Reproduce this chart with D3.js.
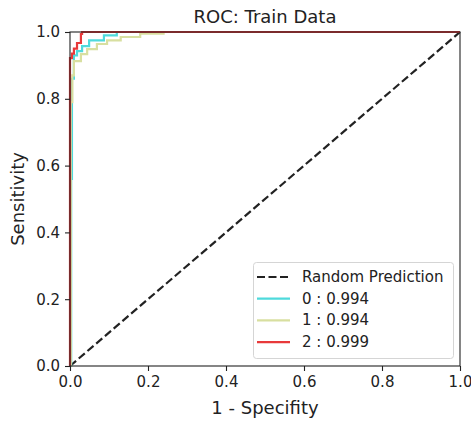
<!DOCTYPE html>
<html><head><meta charset="utf-8">
<script src="https://cdn.jsdelivr.net/npm/d3@7"></script>
<style>body{margin:0;background:#fff}svg{display:block}text{font-family:"DejaVu Sans",sans-serif;fill:#222}</style>
</head><body><svg id="c" width="471" height="425"></svg>
<script>
const title = "ROC: Train Data";
const xLabel = "1 - Specifity";
const yLabel = "Sensitivity";
const ticks = [0, 0.2, 0.4, 0.6, 0.8, 1.0];
const classNames = ["0", "1", "2"];
const aucs = ["0.994", "0.994", "0.999"];
const fpr0 = [0, 0.003, 0.003, 0.005, 0.005, 0.01, 0.01, 0.018, 0.018, 0.031, 0.031, 0.049, 0.049, 0.087, 0.087, 0.12, 0.12, 1];
const tpr0 = [0, 0, 0.56, 0.56, 0.86, 0.86, 0.93, 0.93, 0.943, 0.943, 0.958, 0.958, 0.975, 0.975, 0.99, 0.99, 1, 1];
const fpr1 = [0, 0.002, 0.002, 0.006, 0.006, 0.01, 0.01, 0.028, 0.028, 0.044, 0.044, 0.069, 0.069, 0.095, 0.095, 0.13, 0.13, 0.18, 0.18, 0.24, 0.24, 1];
const tpr1 = [0, 0, 0.79, 0.79, 0.87, 0.87, 0.913, 0.913, 0.934, 0.934, 0.949, 0.949, 0.964, 0.964, 0.975, 0.975, 0.985, 0.985, 0.995, 0.995, 1, 1];
const fpr2 = [0, 0, 0.005, 0.005, 0.01, 0.01, 0.018, 0.018, 0.028, 0.028, 0.031, 0.031, 1];
const tpr2 = [0, 0.922, 0.922, 0.935, 0.935, 0.95, 0.95, 0.967, 0.967, 0.994, 0.994, 1, 1];
const colors = ["#4fdadc", "#d8dfa0", "#e8393a"];

const svg = d3.select("#c");
const L = 70, R = 460, T = 32, B = 366;
const x = d3.scaleLinear().domain([0, 1]).range([L, R]);
const y = d3.scaleLinear().domain([0, 1]).range([B, T]);
const line = d3.line().x(d => x(d[0])).y(d => y(d[1]));

svg.append("path").datum([[0,0],[1,1]]).attr("d", line)
  .attr("fill","none").attr("stroke","#222").attr("stroke-width",2.2).attr("stroke-dasharray","8,3.5");
const series = [[fpr0,tpr0],[fpr1,tpr1],[fpr2,tpr2]];
series.forEach((s,i) => {
  svg.append("path").datum(s[0].map((f,j)=>[f,s[1][j]])).attr("d", line)
    .attr("fill","none").attr("stroke",colors[i]).attr("stroke-width",2.2);
});

const fmt = d3.format(".1f");
const xa = svg.append("g").attr("transform",`translate(0,${B})`)
  .call(d3.axisBottom(x).tickValues(ticks).tickFormat(fmt).tickSize(5).tickPadding(5));
const ya = svg.append("g").attr("transform",`translate(${L},0)`)
  .call(d3.axisLeft(y).tickValues(ticks).tickFormat(fmt).tickSize(5).tickPadding(5));
[xa,ya].forEach(a => { a.select(".domain").remove(); a.selectAll("line").attr("stroke","#222").attr("stroke-width",1.1);
  a.selectAll("text").attr("font-size",15).attr("fill","#222").attr("font-family","DejaVu Sans"); });
svg.append("rect").attr("x",L).attr("y",T).attr("width",R-L).attr("height",B-T)
  .attr("fill","none").attr("stroke","#222").attr("stroke-width",1.1);

svg.append("text").attr("x",(L+R)/2).attr("y",23).attr("text-anchor","middle").attr("font-size",18).text(title);
svg.append("text").attr("x",(L+R)/2).attr("y",414).attr("text-anchor","middle").attr("font-size",18).text(xLabel);
svg.append("text").attr("transform","translate(24,"+((T+B)/2)+") rotate(-90)").attr("text-anchor","middle").attr("font-size",18).text(yLabel);

const lg = svg.append("g");
lg.append("rect").attr("x",253.5).attr("y",262.5).attr("width",200).attr("height",96).attr("rx",3)
  .attr("fill","#fff").attr("fill-opacity",0.8).attr("stroke","#d5d5d5");
const items = [{t:"Random Prediction", c:"#222", dash:true}].concat(classNames.map((n,i)=>({t:n+" : "+aucs[i], c:colors[i]})));
items.forEach((it,i) => {
  const yy = 277 + i*21.7;
  lg.append("line").attr("x1",257).attr("x2",290).attr("y1",yy).attr("y2",yy)
    .attr("stroke",it.c).attr("stroke-width",2.2).attr("stroke-dasharray", it.dash ? "8,3.5" : null);
  lg.append("text").attr("x",302).attr("y",yy+5).attr("font-size",15).text(it.t);
});
</script></body></html>
